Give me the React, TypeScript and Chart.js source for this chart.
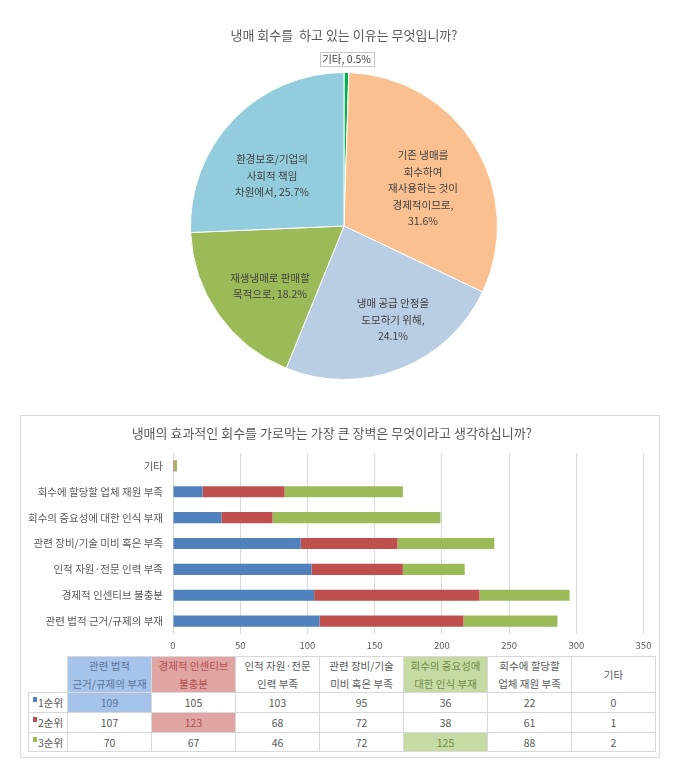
import React, { useEffect, useRef } from 'react';
import { Chart, registerables } from 'chart.js';

Chart.register(...registerables);

const FONT = "'Noto Sans CJK KR', 'Noto Sans', sans-serif";

// ---------- Pie chart data ----------
const pieTitle = '냉매 회수를  하고 있는 이유는 무엇입니까?';
const pieCategories = [
  '기타',
  '기존 냉매를 회수하여 재사용하는 것이 경제적이므로',
  '냉매 공급 안정을 도모하기 위해',
  '재생냉매로 판매할 목적으로',
  '환경보호/기업의 사회적 책임 차원에서',
];
const pieValues = [0.5, 31.6, 24.1, 18.2, 25.7];
const pieColors = ['#00B050', '#FAC090', '#B9CDE5', '#9BBB59', '#93CDDD'];
const pieLabelWrap = [
  ['기타'],
  ['기존 냉매를', '회수하여', '재사용하는 것이', '경제적이므로'],
  ['냉매 공급 안정을', '도모하기 위해'],
  ['재생냉매로 판매할', '목적으로'],
  ['환경보호/기업의', '사회적 책임', '차원에서'],
];
const pieValueOwnLine = [false, true, true, false, false];
const pieLabelRadius = [1.09, 0.571, 0.69, 0.62, 0.571];
const pieLabelAngleShift = [0, 5.7, -6.3, -3.8, -9];
const pieLabelBoxed = [true, false, false, false, false];

// ---------- Bar chart data ----------
const barTitle = '냉매의 효과적인 회수를 가로막는 가장 큰 장벽은 무엇이라고 생각하십니까?';
const barCategories = [
  '관련 법적 근거/규제의 부재',
  '경제적 인센티브 불충분',
  '인적 자원·전문 인력 부족',
  '관련 장비/기술 미비 혹은 부족',
  '회수의 중요성에 대한 인식 부재',
  '회수에 할당할 업체 재원 부족',
  '기타',
];
const tableHeaderLines = [
  ['관련 법적', '근거/규제의 부재'],
  ['경제적 인센티브', '불충분'],
  ['인적 자원·전문', '인력 부족'],
  ['관련 장비/기술', '미비 혹은 부족'],
  ['회수의 중요성에', '대한 인식 부재'],
  ['회수에 할당할', '업체 재원 부족'],
  ['기타'],
];
const seriesNames = ['1순위', '2순위', '3순위'];
const rank1 = [109, 105, 103, 95, 36, 22, 0];
const rank2 = [107, 123, 68, 72, 38, 61, 1];
const rank3 = [70, 67, 46, 72, 125, 88, 2];
const seriesColors = ['#4F81BD', '#C0504D', '#9BBB59'];
const xMin = 0;
const xMax = 350;
const xStep = 50;
const highlights = [
  { row: 0, col: 0, fill: '#A6C3EA', text: '#5A7499' },
  { row: 1, col: 1, fill: '#E0A4A3', text: '#B4504E' },
  { row: 2, col: 4, fill: '#C5DBA3', text: '#6F8B46' },
];

const pieLabelPlugin = {
  id: 'pieLabels',
  afterDatasetsDraw(chart: any) {
    const ctx = chart.ctx;
    const meta = chart.getDatasetMeta(0);
    meta.data.forEach((arc: any, i: number) => {
      const p = arc.getProps(['x', 'y', 'startAngle', 'endAngle', 'outerRadius'], true);
      const mid = (p.startAngle + p.endAngle) / 2 + (pieLabelAngleShift[i] * Math.PI) / 180;
      const r = p.outerRadius * pieLabelRadius[i];
      const cx = p.x + Math.cos(mid) * r;
      const cy = p.y + Math.sin(mid) * r;
      const valText = `${pieValues[i].toFixed(1)}%`;
      const wrap = pieLabelWrap[i].slice();
      let lines: string[];
      if (pieValueOwnLine[i]) {
        wrap[wrap.length - 1] = wrap[wrap.length - 1] + ',';
        lines = [...wrap, valText];
      } else {
        wrap[wrap.length - 1] = wrap[wrap.length - 1] + ', ' + valText;
        lines = wrap;
      }
      ctx.save();
      ctx.font = `10.5px ${FONT}`;
      ctx.textAlign = 'center';
      ctx.textBaseline = 'middle';
      const lh = 16.5;
      const top = cy - ((lines.length - 1) * lh) / 2;
      if (pieLabelBoxed[i]) {
        const w = Math.max(...lines.map((l) => ctx.measureText(l).width)) + 5;
        const h = 14;
        ctx.fillStyle = '#ffffff';
        ctx.fillRect(cx - w / 2, cy - h / 2, w, h);
        ctx.strokeStyle = '#C8C8C8';
        ctx.lineWidth = 1;
        ctx.strokeRect(Math.round(cx - w / 2) + 0.5, Math.round(cy - h / 2) + 0.5, Math.round(w), h);
      }
      ctx.fillStyle = '#404040';
      lines.forEach((l, k) => ctx.fillText(l, cx, top + k * lh));
      ctx.restore();
    });
  },
};

function PieChart() {
  const ref = useRef<HTMLCanvasElement>(null);
  useEffect(() => {
    const chart = new Chart(ref.current as HTMLCanvasElement, {
      type: 'pie',
      data: {
        labels: pieCategories,
        datasets: [
          {
            data: pieValues,
            backgroundColor: pieColors,
            borderColor: '#ffffff',
            borderWidth: 1,
          },
        ],
      },
      options: {
        responsive: false,
        animation: false,
        events: [],
        layout: { padding: { left: 8, right: 0, top: 0, bottom: 20 } },
        plugins: {
          legend: { display: false },
          tooltip: { enabled: false },
          title: {
            display: true,
            text: pieTitle,
            color: '#595959',
            font: { size: 13, family: FONT, weight: 'normal' },
            padding: { top: 27.2, bottom: 29.2 },
          },
        },
      } as any,
      plugins: [pieLabelPlugin],
    });
    return () => chart.destroy();
  }, []);
  return (
    <canvas
      ref={ref}
      width={680}
      height={400}
      style={{ position: 'absolute', left: 0, top: 0, width: 680, height: 400 }}
    />
  );
}

function BarChart() {
  const ref = useRef<HTMLCanvasElement>(null);
  useEffect(() => {
    const series = [rank1, rank2, rank3];
    const chart = new Chart(ref.current as HTMLCanvasElement, {
      type: 'bar',
      data: {
        labels: barCategories,
        datasets: series.map((d, i) => ({
          label: seriesNames[i],
          data: d,
          backgroundColor: seriesColors[i],
          borderWidth: 0,
          barPercentage: 1,
          categoryPercentage: 0.43,
        })),
      },
      options: {
        responsive: false,
        animation: false,
        events: [],
        indexAxis: 'y',
        layout: { padding: { left: 0, right: 16.5, top: 0, bottom: 0 } },
        scales: {
          x: {
            stacked: true,
            min: xMin,
            max: xMax,
            ticks: { stepSize: xStep, color: '#595959', font: { size: 9.5, family: FONT }, padding: 6 },
            grid: { color: '#D9D9D9', drawTicks: false, tickLength: 0 },
            border: { display: false },
            afterFit(s: any) {
              s.height = 21;
            },
          },
          y: {
            stacked: true,
            reverse: true,
            ticks: { color: '#595959', font: { size: 10.5, family: FONT }, padding: 10 },
            grid: { display: false, drawTicks: false },
            border: { display: false },
            afterFit(s: any) {
              s.width = 153;
            },
          },
        },
        plugins: {
          legend: { display: false },
          tooltip: { enabled: false },
          title: {
            display: true,
            text: barTitle,
            color: '#595959',
            font: { size: 13, family: FONT, weight: 'normal' },
            padding: { top: 10.2, bottom: 12.2 },
          },
        },
      } as any,
    });
    return () => chart.destroy();
  }, []);
  return (
    <canvas
      ref={ref}
      width={640}
      height={240}
      style={{ position: 'absolute', left: 20, top: 415, width: 640, height: 240 }}
    />
  );
}

function DataTable() {
  const series = [rank1, rank2, rank3];
  const border = '1px solid #D9D9D9';
  const hl = (row: number, col: number) => highlights.find((h) => h.row === row && h.col === col);
  const hlCol = (col: number) => highlights.find((h) => h.col === col);
  return (
    <table
      style={{
        position: 'absolute',
        left: 28,
        top: 656,
        width: 627,
        borderCollapse: 'collapse',
        tableLayout: 'fixed',
        fontFamily: FONT,
        fontSize: 10.5,
        color: '#595959',
      }}
    >
      <colgroup>
        <col style={{ width: 39 }} />
        {tableHeaderLines.map((_, i) => (
          <col key={i} style={{ width: 84 }} />
        ))}
      </colgroup>
      <tbody>
        <tr style={{ height: 35 }}>
          <td style={{ border: 'none', padding: 0 }} />
          {tableHeaderLines.map((lines, c) => {
            const h = hlCol(c);
            return (
              <td
                key={c}
                style={{
                  border,
                  padding: 0,
                  textAlign: 'center',
                  lineHeight: '17.5px',
                  background: h ? h.fill : '#fff',
                  color: h ? h.text : '#595959',
                }}
              >
                {lines.map((l, k) => (
                  <div key={k}>{l}</div>
                ))}
              </td>
            );
          })}
        </tr>
        {series.map((vals, r) => (
          <tr key={r} style={{ height: r === 2 ? 19 : 20 }}>
            <td style={{ border, padding: '0 0 0 4px', textAlign: 'left', whiteSpace: 'nowrap' }}>
              <span
                style={{
                  display: 'inline-block',
                  width: 4,
                  height: 5,
                  background: seriesColors[r],
                  marginRight: 1,
                  verticalAlign: 5,
                }}
              />
              {seriesNames[r]}
            </td>
            {vals.map((v, c) => {
              const h = hl(r, c);
              return (
                <td
                  key={c}
                  style={{
                    border,
                    padding: 0,
                    textAlign: 'center',
                    background: h ? h.fill : '#fff',
                    color: h ? h.text : '#595959',
                  }}
                >
                  {v}
                </td>
              );
            })}
          </tr>
        ))}
      </tbody>
    </table>
  );
}

export default function App() {
  return (
    <div
      style={{
        position: 'absolute',
        left: 0,
        top: 0,
        width: 680,
        height: 780,
        background: '#ffffff',
        overflow: 'hidden',
        fontFamily: FONT,
      }}
    >
      <PieChart />
      <div
        style={{
          position: 'absolute',
          left: 20,
          top: 415,
          width: 640,
          height: 343,
          border: '1px solid #D9D9D9',
          boxSizing: 'border-box',
        }}
      />
      <BarChart />
      <DataTable />
    </div>
  );
}
